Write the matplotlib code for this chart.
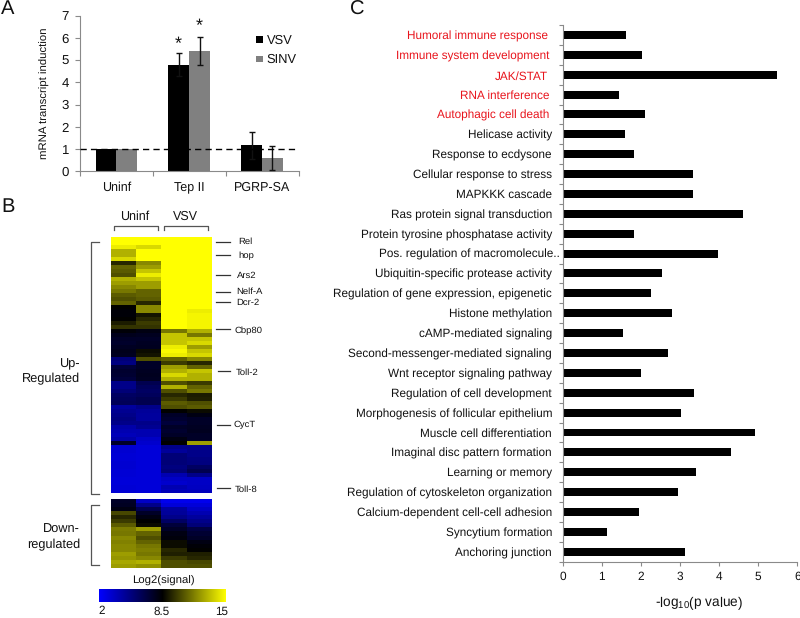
import matplotlib
matplotlib.use('Agg')
import matplotlib.pyplot as plt
from matplotlib.colors import LinearSegmentedColormap
import numpy as np

plt.rcParams['font.family'] = ['Liberation Sans', 'DejaVu Sans']
plt.rcParams['mathtext.default'] = 'regular'
plt.rcParams['text.hinting'] = 'none'

W, H = 800, 618
AXC = '#8a8a8a'
TXT = '#111111'

# Panel A
groups = ['Uninf', 'Tep II', 'PGRP-SA']
vsv = [1.0, 4.8, 1.17]
sinv = [1.0, 5.43, 0.6]
vsv_err = [0, 0.5, 0.61]
sinv_err = [0, 0.63, 0.52]

# Panel B (log2 signal per row, one list per array column)
up_u1 = [15, 15, 14.5, 13, 13, 14, 9.5, 11, 10.8, 10.5, 13, 12.5, 12, 11.5, 10.8, 10.5,
         11, 8.5, 8.3, 8.3, 8.5, 9.2, 9.8, 8.3, 7.8, 7.5, 7.4, 7.6, 7.8, 7.7, 5.5, 5.2,
         7.0, 7.3, 7.2, 7.0, 5, 5, 5.5, 6, 6.2, 6.3, 4.5, 4.8, 5, 5.2, 5.0, 4.2,
         4, 3.8, 4.2, 7.5, 3.2, 3.2, 3.1, 3.1, 3.2, 3.2, 3.1, 3.1, 3, 3, 3.1, 3.1]
up_u2 = [15, 15, 14, 15, 15, 15, 12, 12.5, 13.5, 14.5, 13.5, 12.5, 12.5, 11, 11, 10.8,
         9.5, 12, 12, 9, 9.5, 10, 9.8, 8, 7.7, 7.5, 7.6, 7.7, 8.8, 9, 10.5, 7.5,
         7.5, 7.6, 7.7, 7.6, 6.5, 6.2, 6.0, 6.2, 6.5, 6.5, 5.0, 4.6, 4.5, 4.5, 5, 4.8,
         4, 4, 3.5, 3.3, 3, 3, 3, 3, 3, 3, 3, 3, 3, 3, 3, 3]
up_v1 = [15, 15, 15, 15, 15, 15, 15, 15, 15, 15, 15, 15, 15, 15, 15, 15,
         15, 15, 15, 15, 15, 15, 15, 11.5, 13.5, 13.5, 13.5, 14.5, 14.8, 14.5, 11, 10,
         12.5, 13, 14, 13, 10.5, 13, 10.5, 9.5, 10, 10.8, 10.5, 8.5, 7.5, 7.3, 7, 7.5,
         7.3, 7.5, 8, 8.5, 5.0, 4.6, 5.5, 5.5, 5.5, 5.3, 5.5, 4, 3.5, 3.3, 4, 3.8]
up_v2 = [15, 15, 15, 15, 15, 15, 15, 15, 15, 15, 15, 15, 15, 15, 15, 15,
         15, 15, 14.5, 14.7, 14.7, 14.7, 14.7, 13, 11.5, 13.5, 14, 12.5, 13.5, 14, 12, 9.5,
         11, 13.5, 13, 13, 10, 11, 11.5, 9.2, 9.3, 10.5, 10.8, 8.8, 8, 7.5, 7.5, 7.6,
         7.7, 7.5, 7.5, 12.5, 5, 5, 5, 5.2, 5.3, 6, 6.5, 5, 3.5, 3.5, 3.6, 3.7]
down_u1 = [7.5, 7.6, 8, 10.3, 9.5, 10, 10.8, 11.6, 11.5, 12, 11.8, 12, 12, 12.5, 12.3, 12.8, 12.5]
down_u2 = [3.5, 5, 6.5, 7.5, 8, 8.5, 8.8, 12.5, 11, 10.5, 11, 11.5, 11.7, 11.5, 12, 13, 12.2]
down_v1 = [2.5, 3, 4.5, 4.6, 5, 6, 7, 7.5, 8, 8.2, 8.8, 8.8, 9.5, 9.3, 10, 10.5, 10.5]
down_v2 = [2.5, 3, 3.5, 4, 4.5, 5, 5.5, 6.8, 7.2, 7.5, 8, 8.3, 8.5, 9.3, 9.5, 10.3, 10.5]
scale_ticks = [2, 8.5, 15]
scale_labels = ['2', '8.5', '15']
genes = ['Rel', 'hop', 'Ars2', 'Nelf-A', 'Dcr-2', 'Cbp80', 'Toll-2', 'CycT', 'Toll-8']

# Panel C
terms = ['Humoral immune response', 'Immune system development', 'JAK/STAT', 'RNA interference',
         'Autophagic cell death', 'Helicase activity', 'Response to ecdysone',
         'Cellular response to stress', 'MAPKKK cascade', 'Ras protein signal transduction',
         'Protein tyrosine phosphatase activity', 'Pos. regulation of macromolecule..',
         'Ubiquitin-specific protease activity', 'Regulation of gene expression, epigenetic',
         'Histone methylation', 'cAMP-mediated signaling', 'Second-messenger-mediated signaling',
         'Wnt receptor signaling pathway', 'Regulation of cell development',
         'Morphogenesis of follicular epithelium', 'Muscle cell differentiation',
         'Imaginal disc pattern formation', 'Learning or memory',
         'Regulation of cytoskeleton organization', 'Calcium-dependent cell-cell adhesion',
         'Syncytium formation', 'Anchoring junction']
pvals = [1.61, 2.04, 5.48, 1.43, 2.10, 1.59, 1.82, 3.32, 3.34, 4.60, 1.82, 3.96, 2.55, 2.26,
         2.80, 1.55, 2.70, 2.00, 3.37, 3.02, 4.93, 4.31, 3.42, 2.95, 1.96, 1.14, 3.13]
n_red = 5


def axpx(fig, x0, y0, x1, y1, **kw):
    """Axes from pixel box (y measured from the top)."""
    return fig.add_axes([x0 / W, 1 - y1 / H, (x1 - x0) / W, (y1 - y0) / H], **kw)


fig = plt.figure(figsize=(W / 100, H / 100), dpi=100, facecolor='white')

# ---------- A
a = axpx(fig, 80, 15.6, 298.5, 171.4)
xa = np.arange(len(groups))
bw = 0.285
a.bar(xa - bw / 2, vsv, bw, color='black', zorder=2)
a.bar(xa + bw / 2, sinv, bw, color='#808080', zorder=2)
ek = dict(ecolor='#111111', elinewidth=1, capsize=2.5, capthick=1, fmt='none', zorder=3)
a.errorbar((xa - bw / 2)[1:], vsv[1:], yerr=vsv_err[1:], **ek)
a.errorbar((xa + bw / 2)[1:], sinv[1:], yerr=sinv_err[1:], **ek)
a.axhline(1, color='black', lw=1, ls=(0, (4.5, 3)), zorder=4)
a.set_xlim(-0.5, 2.5)
a.set_ylim(0, 7)
a.set_xticks(np.arange(-0.5, 3))
a.set_xticklabels([])
a.set_yticks(range(8))
a.tick_params(axis='both', color=AXC, length=3.5, width=0.8)
a.tick_params(axis='y', labelsize=9.5, labelcolor=TXT, pad=4.5)
for s in ('top', 'right'):
    a.spines[s].set_visible(False)
for s in ('left', 'bottom'):
    a.spines[s].set_color(AXC)
    a.spines[s].set_linewidth(0.8)
a.set_ylabel('mRNA transcript induction', fontsize=8.2, color=TXT, labelpad=8)

# ---------- B
cmap = LinearSegmentedColormap.from_list('by', [(0, '#0000ff'), (0.5, '#000000'), (1, '#ffff00')])
up = axpx(fig, 111, 237, 212, 493)
up.imshow(np.array([up_u1, up_u2, up_v1, up_v2]).T, cmap=cmap, vmin=2, vmax=15, aspect='auto',
          interpolation='nearest')
up.axis('off')
dn = axpx(fig, 111, 499, 212, 568)
dn.imshow(np.array([down_u1, down_u2, down_v1, down_v2]).T, cmap=cmap, vmin=2, vmax=15, aspect='auto',
          interpolation='nearest')
dn.axis('off')
cb = axpx(fig, 99, 589, 226, 602)
cb.imshow(np.linspace(2, 15, 256)[None, :], cmap=cmap, vmin=2, vmax=15, aspect='auto',
          extent=(2, 15, 0, 1))
cb.axis('off')

# overlay in pixel coordinates for annotation furniture
o = fig.add_axes([0, 0, 1, 1], zorder=10)
o.set_xlim(0, W)
o.set_ylim(H, 0)
o.axis('off')
o.patch.set_alpha(0)


def label(x, y, s, size, ha='left', color=TXT):
    o.text(x, y + 1.3, s, fontsize=size, ha=ha, va='center', color=color)


for lab, x, y in [('A', 7.5, 8), ('B', 8, 205.5), ('C', 357.5, 8)]:
    label(x, y, lab, 14.5, ha='center')

for g, x in zip(groups, xa):
    label(116.3 + 72.8 * x, 186.5, g, 9, ha='center')

# legend
o.fill_between([256, 263], 36, 43, color='black', lw=0)
o.fill_between([256, 263], 56, 62, color='#808080', lw=0)
label(266.5, 39.5, 'VSV', 9.3)
label(266.5, 58.5, 'SINV', 9.3)
label(178, 43, '*', 13, ha='center')
label(199.5, 25, '*', 13, ha='center')

# heat-map headers and brackets
BR = '#555555'
label(135, 215, 'Uninf', 9, ha='center')
label(185.5, 215.5, 'VSV', 9, ha='center')
o.plot([113.5, 113.5, 158, 158], [230, 226, 226, 230], color=BR, lw=0.9)
o.plot([163.5, 163.5, 207.5, 207.5], [230, 226, 226, 230], color=BR, lw=0.9)
o.plot([99, 90.5, 90.5, 99], [242, 242, 494, 494], color=BR, lw=0.9)
o.plot([99, 90.5, 90.5, 99], [505, 505, 565, 565], color=BR, lw=0.9)
label(80, 362.5, 'Up-', 9.2, ha='right')
label(80, 377.5, 'Regulated', 9.2, ha='right')
label(80, 528.5, 'Down-', 9.2, ha='right')
label(80, 544, 'regulated', 9.2, ha='right')

line_x0 = [216, 216, 216, 216, 216, 216, 218, 216.5, 217]
line_y = [242, 254.5, 274.5, 292, 302, 329, 371, 424.5, 488]
text_x = [238, 238, 237, 236.5, 236, 235, 236, 234, 234.5]
text_y = [241, 255.5, 275, 291, 302, 330.5, 372, 424.5, 488.5]
for g, lx, ly, tx, ty in zip(genes, line_x0, line_y, text_x, text_y):
    o.plot([lx, 230], [ly, ly], color='#333333', lw=0.9)
    label(tx, ty - 0.5, g, 6.8)

label(163, 580, 'Log2(signal)', 8.2, ha='center')
for lab, x in zip(scale_labels, [102, 161.5, 222]):
    label(x, 610, lab, 8.4, ha='center')

# ---------- C
c = axpx(fig, 562.7, 25, 797.3, 561.7)
yc = np.arange(len(terms))
c.barh(yc, pvals, 0.4, color='black', zorder=2)
c.set_xlim(0, 6)
c.set_ylim(len(terms) - 0.5, -0.5)
c.set_yticks(np.arange(-0.5, len(terms)))
c.set_yticklabels([])
c.set_xticks(range(7))
c.tick_params(axis='both', color=AXC, length=3, width=0.8)
c.tick_params(axis='x', labelsize=8.6, labelcolor=TXT, pad=4)
for s in ('top', 'right'):
    c.spines[s].set_visible(False)
for s in ('left', 'bottom'):
    c.spines[s].set_color(AXC)
    c.spines[s].set_linewidth(0.8)

right_px = [548, 549, 548, 549.5, 549.5] + [552] * 22
shift_px = [0, 0.6, 1.2, -0.3, 0] + [0] * 22
right_px[11] = 560
for i, (t, rx, dy) in enumerate(zip(terms, right_px, shift_px)):
    ypx = 25 + (i + 0.5) * (561.7 - 25) / len(terms) + dy
    label(rx, ypx, t, 8.45, ha='right', color='#e8141c' if i < n_red else TXT)
label(699, 602, '-log$_{10}$(p value)', 9.8, ha='center')

fig.savefig('out.png', dpi=100, facecolor='white')
